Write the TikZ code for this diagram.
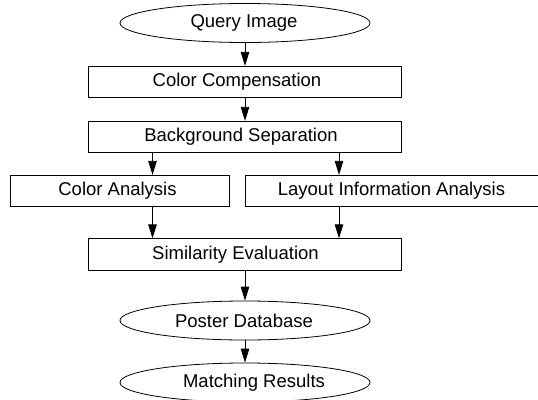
\documentclass[tikz,border=0pt]{standalone}
\usepackage{fontspec}
\setmainfont{Liberation Sans}
\usetikzlibrary{shapes.geometric,arrows.meta}
\tikzset{
  txt/.style={inner sep=0pt,font=\fontsize{18.5}{20}\selectfont},
  procbox/.style={draw=black,line width=0.8pt,rectangle,inner sep=0pt,minimum height=31.5pt},
  termel/.style={draw=black,line width=0.8pt,ellipse,inner sep=0pt,minimum width=250pt,minimum height=39pt},
  flow/.style={draw=black,line width=0.8pt,-{Triangle[length=14pt,width=8.5pt]}}
}
\begin{document}
\begin{tikzpicture}[x=1pt,y=-1pt]
\useasboundingbox (0,0) rectangle (538,399);
\node[termel,label={[txt,xshift=-1pt]center:Query Image}] (qi) at (245,23) {};
\node[procbox,minimum width=313pt,label={[txt,xshift=-8pt]center:Color Compensation}] (cc) at (245,82) {};
\node[procbox,minimum width=313pt,label={[txt,xshift=-4pt]center:Background Separation}] (bs) at (245,137) {};
\node[procbox,minimum width=218.5pt,label={[txt,xshift=-2.5pt]center:Color Analysis}] (ca) at (120,191) {};
\node[procbox,minimum width=296pt,label={[txt,xshift=-1.5pt]center:Layout Information Analysis}] (lia) at (393,191) {};
\node[procbox,minimum width=313pt,label={[txt,xshift=-9.5pt]center:Similarity Evaluation}] (se) at (245,254.5) {};
\node[termel,label={[txt,xshift=-1pt]center:Poster Database}] (pd) at (245,320.5) {};
\node[termel,label={[txt,xshift=9pt]center:Matching Results}] (mr) at (245,382.5) {};
\coordinate (xl) at (152.5,0);
\coordinate (xr) at (339,0);
\draw[flow] (qi.south) -- (cc.north);
\draw[flow] (cc) -- (bs);
\draw[flow] (bs.south -| xl) -- (ca.north -| xl);
\draw[flow] (bs.south -| xr) -- (lia.north -| xr);
\draw[flow] (ca.south -| xl) -- (se.north -| xl);
\draw[flow] (lia.south -| xr) -- (se.north -| xr);
\draw[flow] (se.south -| pd.north) -- (pd.north);
\draw[flow] (pd) -- (mr);
\end{tikzpicture}
\end{document}
